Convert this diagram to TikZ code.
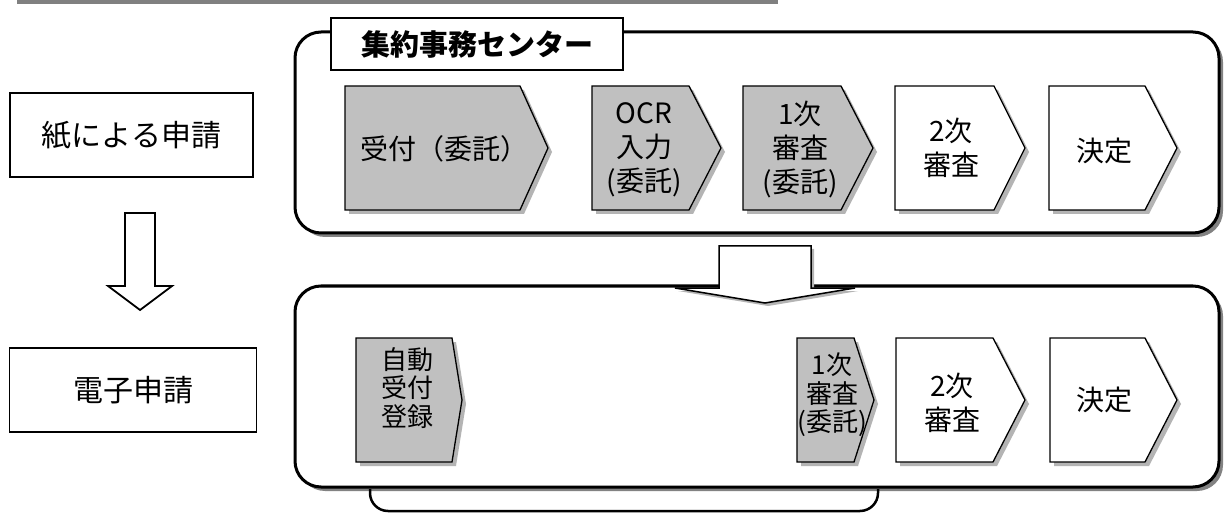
\documentclass[tikz,border=0pt]{standalone}
\usepackage{fontspec}
\setmainfont{Noto Sans CJK JP}
\definecolor{barc}{RGB}{128,128,128}
\definecolor{chevgray}{RGB}{192,192,192}
\definecolor{chevshadowc}{RGB}{180,180,180}
\definecolor{panelshadowc}{RGB}{130,130,130}
\newcommand\mychev[6]{%
  \fill[chevshadowc] ({#1+4},{#4+4}) -- ({#2+4},{#4+4}) -- ({#3+4},{(#4+#5)/2+4}) -- ({#2+4},{#5+4}) -- ({#1+4},{#5+4}) -- cycle;
  \draw[chevline,fill=#6] (#1,#4) -- (#2,#4) -- (#3,{(#4+#5)/2}) -- (#2,#5) -- (#1,#5) -- cycle;}
\begin{document}
\begin{tikzpicture}[x=1pt,y=-1pt,
  panel/.style={line width=3pt, rounded corners=26pt, fill=white},
  panelshadow/.style={fill=panelshadowc, rounded corners=26pt},
  chevline/.style={line width=1.3pt, line join=miter},
  chevtext/.style={align=center, inner sep=0pt, font=\fontsize{28}{34}\selectfont},
  narrowtext/.style={align=center, inner sep=0pt, font=\fontsize{26}{28.5}\selectfont},
  sidebox/.style={draw, line width=1.8pt, fill=white, minimum height=84pt, inner sep=0pt, font=\fontsize{30}{30}\selectfont},
  blockarrow/.style={draw, line width=1.8pt, fill=white, line join=miter}]
\useasboundingbox (0,0) rectangle (1224,513);
% top bar
\fill[barc] (17,0) rectangle (778,4);
% left side
\node[sidebox, minimum width=243pt] (paper) at (131.5,135) {紙による申請};
\node[sidebox, minimum width=247pt] (denshi) at (133,390) {電子申請};
\draw[blockarrow] (125,213) -- (155,213) -- (155,286) -- (172,286) -- (140,310) -- (108,286) -- (125,286) -- cycle;
% top panel
\fill[panelshadow] (299,36) rectangle (1223,237);
\draw[panel] (295,32) rectangle (1219,233);
\node[draw, fill=white, line width=1.3pt, minimum width=292pt, minimum height=52pt, inner sep=0pt,
  font=\bfseries\fontsize{29}{29}\selectfont] (title) at (477,44) {集約事務センター};
\mychev{345}{520}{548}{86}{210}{chevgray}
\mychev{592}{689}{721}{86}{210}{chevgray}
\mychev{743}{841}{873}{86}{210}{chevgray}
\mychev{895}{994}{1025}{86}{210}{white}
\mychev{1049}{1145}{1177}{86}{210}{white}
\node[chevtext] (t1) at (444,149) {受付（委託）};
\node[chevtext] (t2) at (644,150) {OCR\\入力\\(委託)};
\node[chevtext] (t3) at (800,150) {1次\\審査\\(委託)};
\node[chevtext] (t4) at (951,148) {2次\\審査};
\node[chevtext] (t5) at (1104,151) {決定};
% bottom panel
\fill[panelshadow] (299,290) rectangle (1223,491);
\draw[panel] (295,286) rectangle (1219,487);
\mychev{356}{452}{462}{338}{462}{chevgray}
\mychev{797}{854}{874}{338}{462}{chevgray}
\mychev{896}{993}{1025}{338}{462}{white}
\mychev{1050}{1145}{1177}{338}{462}{white}
\node[narrowtext] (b1) at (407,388) {自動\\受付\\登録};
\node[narrowtext] (b2) at (832,395) {1次\\審査\\(委託)};
\node[chevtext] (b3) at (952,403) {2次\\審査};
\node[chevtext] (b4) at (1104,400) {決定};
% big transition arrow
\fill[chevshadowc] (722,249) -- (814,249) -- (814,291) -- (858,291) -- (768,306) -- (678,291) -- (722,291) -- cycle;
\draw[blockarrow, line width=1.5pt] (719,246) -- (811,246) -- (811,288) -- (855,288) -- (765,303) -- (675,288) -- (719,288) -- cycle;
% bracket under bottom panel
\draw[line width=2.5pt, rounded corners=18pt] (370,489) -- (370,511) -- (878,511) -- (878,489);
\end{tikzpicture}
\end{document}
